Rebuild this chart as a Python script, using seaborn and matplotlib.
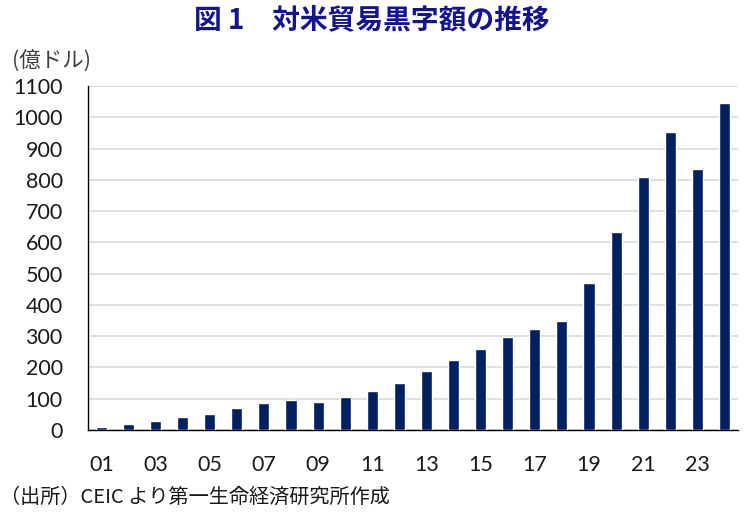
import matplotlib.pyplot as plt
import seaborn as sns
import pandas as pd

years = ["01", "02", "03", "04", "05", "06", "07", "08", "09", "10", "11", "12",
         "13", "14", "15", "16", "17", "18", "19", "20", "21", "22", "23", "24"]
surplus = [8, 20, 28, 41, 51, 71, 85, 96, 88, 104, 125, 149,
           188, 225, 258, 298, 322, 349, 469, 633, 810, 952, 834, 1045]
yticks = [0, 100, 200, 300, 400, 500, 600, 700, 800, 900, 1000, 1100]

df = pd.DataFrame({"year": years, "surplus": surplus})

sns.set_style("white")
plt.rcParams["font.family"] = ["Lato", "Noto Sans CJK JP", "DejaVu Sans"]

fig = plt.figure(figsize=(7.44, 5.13), dpi=100)
ax = fig.add_axes([0.118, 0.162, 0.874, 0.670])

sns.barplot(data=df, x="year", y="surplus", color="#002060", width=0.41,
            saturation=1, ax=ax, zorder=3)

ax.set_ylim(0, 1100)
ax.set_xlim(-0.5, 23.5)
ax.set_yticks(yticks)
ax.set_yticklabels([str(v) for v in yticks], fontsize=15.5, color="#1a1a1a")
ax.set_xticks(range(len(years)))
ax.set_xticklabels([y if i % 2 == 0 else "" for i, y in enumerate(years)],
                   fontsize=15.5, color="#1a1a1a")
ax.tick_params(axis="both", length=0)
ax.tick_params(axis="y", pad=18)
ax.tick_params(axis="x", pad=18)
ax.set_xlabel("")
ax.set_ylabel("")

ax.yaxis.grid(True, color="#d9d9d9", linewidth=1.2, zorder=0)
ax.set_axisbelow(True)
for side in ["top", "right"]:
    ax.spines[side].set_visible(False)
for side in ["left", "bottom"]:
    ax.spines[side].set_color("black")
    ax.spines[side].set_linewidth(1.0)

fig.text(0.5, 0.961, "図 1　対米貿易黒字額の推移", ha="center", va="center",
         fontsize=20, fontweight="bold", color="#14148c",
         family=["Noto Sans CJK JP", "DejaVu Sans"])
fig.text(0.016, 0.879, "(億ドル)", ha="left", va="center", fontsize=15.5,
         color="#404040", family=["Noto Sans CJK JP", "DejaVu Sans"])
fig.text(0.0, 0.031, "（出所）CEIC より第一生命経済研究所作成", ha="left",
         va="center", fontsize=14.5, color="#1a1a1a",
         family=["Noto Sans CJK JP", "DejaVu Sans"])

fig.savefig("out.png", dpi=100)
